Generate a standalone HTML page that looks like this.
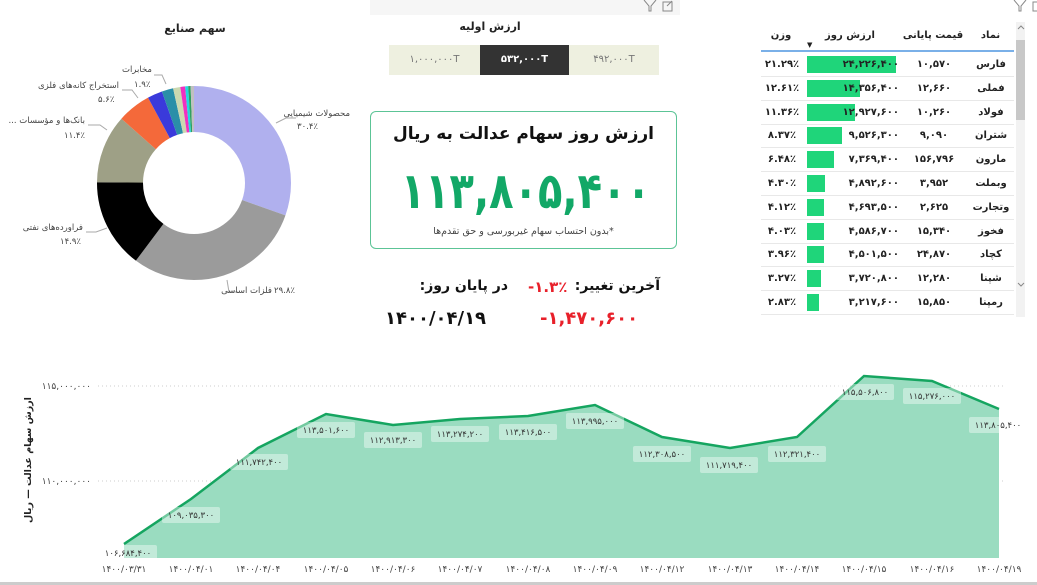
<!DOCTYPE html>
<html><head><meta charset="utf-8">
<style>
body{margin:0;width:1037px;height:585px;background:#fff;overflow:hidden;position:relative;font-family:"DejaVu Sans","Liberation Sans",sans-serif;}
.a{position:absolute;white-space:nowrap;}
.rtl{direction:rtl;}
table{border-collapse:collapse;}
</style></head><body>

<div class="a" style="left:370px;top:0;width:310px;height:15px;background:#f6f6f6"></div>
<svg class="a" style="left:640px;top:0" width="400" height="14">
 <path d="M4 0 L9 6 L9 11 L11 11 L11 6 L16 0" fill="none" stroke="#888" stroke-width="1"/>
 <rect x="23" y="2" width="9" height="9" fill="none" stroke="#888"/>
 <path d="M27 6 L32 1" stroke="#888"/>
 <path d="M374 0 L379 6 L379 11 L381 11 L381 6 L386 0" fill="none" stroke="#888" stroke-width="1"/>
 <rect x="393" y="2" width="9" height="9" fill="none" stroke="#888"/>
</svg>

<!-- Donut -->
<div class="a rtl" style="left:150px;top:22px;width:90px;text-align:center;font-size:11px;font-weight:bold;color:#222">سهم صنایع</div>
<svg class="a" style="left:0;top:0" width="360" height="310">
 <g transform="rotate(-90 194 183)" fill="none" stroke-width="46">
  <circle cx="194" cy="183" r="74" stroke="#b0b0ee" stroke-dasharray="141.35 465" stroke-dashoffset="0"/>
  <circle cx="194" cy="183" r="74" stroke="#9b9b9b" stroke-dasharray="138.56 465" stroke-dashoffset="-141.35"/>
  <circle cx="194" cy="183" r="74" stroke="#000" stroke-dasharray="69.28 465" stroke-dashoffset="-279.91"/>
  <circle cx="194" cy="183" r="74" stroke="#9ea086" stroke-dasharray="53 465" stroke-dashoffset="-349.19"/>
  <circle cx="194" cy="183" r="74" stroke="#f4693a" stroke-dasharray="26.04 465" stroke-dashoffset="-402.19"/>
  <circle cx="194" cy="183" r="74" stroke="#3a3adb" stroke-dasharray="11.62 465" stroke-dashoffset="-428.23"/>
  <circle cx="194" cy="183" r="74" stroke="#2a8fa8" stroke-dasharray="8.83 465" stroke-dashoffset="-439.85"/>
  <circle cx="194" cy="183" r="74" stroke="#cbd8b0" stroke-dasharray="5.58 465" stroke-dashoffset="-448.68"/>
  <circle cx="194" cy="183" r="74" stroke="#f030c0" stroke-dasharray="3.72 465" stroke-dashoffset="-454.26"/>
  <circle cx="194" cy="183" r="74" stroke="#20d8e0" stroke-dasharray="2.32 465" stroke-dashoffset="-457.98"/>
  <circle cx="194" cy="183" r="74" stroke="#30a060" stroke-dasharray="1.86 465" stroke-dashoffset="-460.30"/>
  <circle cx="194" cy="183" r="74" stroke="#c0c0c0" stroke-dasharray="2.79 465" stroke-dashoffset="-462.16"/>
 </g>
 <g stroke="#aaa" fill="none" stroke-width="1">
  <path d="M276 123 L286 118 L296 118"/>
  <path d="M227 280 L229 292 L238 292"/>
  <path d="M107 228 L96 232 L86 232"/>
  <path d="M107 130 L100 125 L88 125"/>
  <path d="M138 98 L132 90 L122 90"/>
  <path d="M166 84 L162 75 L154 75"/>
 </g>
</svg>
<div style="font-size:8.5px;color:#444">
 <div class="a rtl" style="right:687px;top:109px">محصولات شیمیایی</div>
 <div class="a" style="left:297px;top:122px">۳۰.۴٪</div>
 <div class="a rtl" style="right:765px;top:286px">فلزات اساسی</div>
 <div class="a" style="left:274px;top:286px">۲۹.۸٪</div>
 <div class="a rtl" style="right:954px;top:223px">فراورده‌های نفتی</div>
 <div class="a" style="left:60px;top:237px">۱۴.۹٪</div>
 <div class="a rtl" style="right:952px;top:116px">بانک‌ها و مؤسسات ...</div>
 <div class="a" style="left:64px;top:131px">۱۱.۴٪</div>
 <div class="a rtl" style="right:918px;top:81px">استخراج کانه‌های فلزی</div>
 <div class="a" style="left:98px;top:95px">۵.۶٪</div>
 <div class="a rtl" style="right:885px;top:65px">مخابرات</div>
 <div class="a" style="left:134px;top:80px">۱.۹٪</div>
</div>

<!-- initial value -->
<div class="a rtl" style="left:440px;top:20px;width:100px;text-align:center;font-size:11px;font-weight:bold;color:#222">ارزش اولیه</div>
<div class="a" style="left:389px;top:45px;width:91px;height:30px;background:#eef0e0;color:#777;font-size:10px;text-align:center;line-height:30px">۱,۰۰۰,۰۰۰T</div>
<div class="a" style="left:480px;top:45px;width:89px;height:30px;background:#333;color:#fff;font-weight:bold;font-size:10px;text-align:center;line-height:30px">۵۳۲,۰۰۰T</div>
<div class="a" style="left:569px;top:45px;width:90px;height:30px;background:#eef0e0;color:#777;font-size:10px;text-align:center;line-height:30px">۴۹۲,۰۰۰T</div>

<!-- card -->
<div class="a" style="left:370px;top:111px;width:305px;height:136px;border:1px solid #5cc496;border-radius:6px"></div>
<div class="a rtl" style="left:370px;top:124px;width:307px;text-align:center;font-size:17px;font-weight:bold;color:#111">ارزش روز سهام عدالت به ریال</div>
<div class="a" style="left:370px;top:162px;width:307px;text-align:center;font-size:50px;font-weight:bold;color:#12a867;letter-spacing:-2px;transform:scaleX(0.8);transform-origin:center">۱۱۳,۸۰۵,۴۰۰</div>
<div class="a rtl" style="left:370px;top:226px;width:307px;text-align:center;font-size:9.5px;color:#444">*بدون احتساب سهام غیربورسی و حق تقدم‌ها</div>

<div class="a rtl" style="left:560px;top:278px;width:100px;text-align:right;font-size:14px;font-weight:bold;color:#111">آخرین تغییر:</div>
<div class="a" style="left:528px;top:278px;font-size:15px;font-weight:bold;color:#e8202a">-۱.۳٪</div>
<div class="a rtl" style="left:420px;top:278px;width:88px;text-align:right;font-size:14px;font-weight:bold;color:#111">در پایان روز:</div>
<div class="a" style="left:385px;top:308px;font-size:18px;font-weight:bold;color:#111">۱۴۰۰/۰۴/۱۹</div>
<div class="a" style="left:540px;top:308px;font-size:18px;font-weight:bold;color:#e8202a">-۱,۴۷۰,۶۰۰</div>

<!-- table -->
<div class="a" style="left:1016px;top:22px;width:9px;height:295px;background:#f2f2f2"></div>
<div class="a" style="left:1016px;top:40px;width:9px;height:80px;background:#c8c8c8"></div>
<svg class="a" style="left:1014px;top:24px" width="14" height="300"><path d="M4 5 L7 2 L10 5" stroke="#888" fill="none"/><path d="M4 259 L7 262 L10 259" stroke="#888" fill="none"/></svg>
<div class="a" style="left:761px;top:20px;width:253px;height:297px;overflow:hidden">
<table class="rtl" style="font-size:10px;color:#222;font-weight:bold;width:253px">
<tr style="height:31px;border-bottom:2px solid #7ab0e8">
<td style="width:45px;text-align:center">نماد</td><td style="width:66px;text-align:center">قیمت پایانی</td><td style="width:96px;text-align:center;position:relative">ارزش روز<span style="position:absolute;left:6px;bottom:1px;font-size:7px">▼</span></td><td style="text-align:center">وزن</td></tr>
</table>
<div id="rows"></div>
</div>
<script>
var R=[["فارس","۱۰,۵۷۰","۲۴,۲۲۶,۴۰۰","۲۱.۲۹٪",24.2],["فملی","۱۲,۶۶۰","۱۴,۳۵۶,۴۰۰","۱۲.۶۱٪",14.36],["فولاد","۱۰,۲۶۰","۱۲,۹۲۷,۶۰۰","۱۱.۳۶٪",12.93],["شتران","۹,۰۹۰","۹,۵۲۶,۳۰۰","۸.۳۷٪",9.53],["مارون","۱۵۶,۷۹۶","۷,۳۶۹,۴۰۰","۶.۴۸٪",7.37],["وبملت","۳,۹۵۲","۴,۸۹۲,۶۰۰","۴.۳۰٪",4.89],["وتجارت","۲,۶۲۵","۴,۶۹۳,۵۰۰","۴.۱۲٪",4.69],["فخوز","۱۵,۳۴۰","۴,۵۸۶,۷۰۰","۴.۰۳٪",4.59],["کچاد","۲۴,۸۷۰","۴,۵۰۱,۵۰۰","۳.۹۶٪",4.5],["شپنا","۱۲,۲۸۰","۳,۷۲۰,۸۰۰","۳.۲۷٪",3.72],["رمپنا","۱۵,۸۵۰","۳,۲۱۷,۶۰۰","۲.۸۳٪",3.22],["","","","",3]];
var h="";R.forEach(function(r,i){var t=33+i*23.8,w=r[4]/24.2*89;
h+='<div class="a" style="top:'+t+'px;left:0;width:253px;height:23px;border-bottom:1px solid #e8e8e8;font-size:10px;font-weight:bold;color:#222;line-height:23px">'
+'<div class="a" style="left:46px;top:3px;width:'+w+'px;height:17px;background:#1fd57a"></div>'
+'<div class="a rtl" style="right:0;width:46px;text-align:center">'+r[0]+'</div>'
+'<div class="a" style="right:48px;width:64px;text-align:center">'+r[1]+'</div>'
+'<div class="a" style="left:46px;width:92px;text-align:right;position:absolute">'+r[2]+'</div>'
+'<div class="a" style="left:0;width:42px;text-align:center">'+r[3]+'</div></div>';});
document.getElementById("rows").innerHTML=h;
</script>

<!-- area chart -->
<svg class="a" style="left:0;top:340px" width="1037" height="245" font-family="DejaVu Sans,sans-serif">
 <g transform="translate(0,-340)">
 <line x1="98" y1="386" x2="1005" y2="386" stroke="#ccc" stroke-dasharray="1 3"/>
 <line x1="98" y1="481" x2="1005" y2="481" stroke="#ccc" stroke-dasharray="1 3"/>
 <text x="91" y="389" font-size="9" fill="#444" text-anchor="end">۱۱۵,۰۰۰,۰۰۰</text>
 <text x="91" y="484" font-size="9" fill="#444" text-anchor="end">۱۱۰,۰۰۰,۰۰۰</text>
 <text transform="translate(31,460) rotate(-90)" font-size="9.5" font-weight="bold" fill="#222" text-anchor="middle" direction="rtl">ارزش سهام عدالت — ریال</text>
 <path d="M124 544 L191 499 L258 448 L326 414 L393 425 L460 419 L528 416 L595 405 L662 437 L730 448 L797 437 L864 376 L932 381 L999 409 L999 558 L124 558 Z" fill="#9adcc0"/>
 <path d="M124 544 L191 499 L258 448 L326 414 L393 425 L460 419 L528 416 L595 405 L662 437 L730 448 L797 437 L864 376 L932 381 L999 409" fill="none" stroke="#15a560" stroke-width="2.5"/>
 <g id="lbl"></g>
 <g font-size="9" fill="#444" text-anchor="middle">
  <text x="124" y="572">۱۴۰۰/۰۳/۳۱</text><text x="191" y="572">۱۴۰۰/۰۴/۰۱</text><text x="258" y="572">۱۴۰۰/۰۴/۰۴</text><text x="326" y="572">۱۴۰۰/۰۴/۰۵</text><text x="393" y="572">۱۴۰۰/۰۴/۰۶</text><text x="460" y="572">۱۴۰۰/۰۴/۰۷</text><text x="528" y="572">۱۴۰۰/۰۴/۰۸</text><text x="595" y="572">۱۴۰۰/۰۴/۰۹</text><text x="662" y="572">۱۴۰۰/۰۴/۱۲</text><text x="730" y="572">۱۴۰۰/۰۴/۱۳</text><text x="797" y="572">۱۴۰۰/۰۴/۱۴</text><text x="864" y="572">۱۴۰۰/۰۴/۱۵</text><text x="932" y="572">۱۴۰۰/۰۴/۱۶</text><text x="999" y="572">۱۴۰۰/۰۴/۱۹</text>
 </g>
 </g>
</svg>
<div class="a" style="left:0;top:582px;width:1037px;height:3px;background:#ccc"></div>
<script>
var L=[[128,553,"۱۰۶,۶۸۴,۴۰۰"],[191,515,"۱۰۹,۰۳۵,۳۰۰"],[259,462,"۱۱۱,۷۴۲,۴۰۰"],[326,430,"۱۱۳,۵۰۱,۶۰۰"],[393,440,"۱۱۲,۹۱۳,۳۰۰"],[460,434,"۱۱۳,۲۷۴,۲۰۰"],[528,432,"۱۱۳,۴۱۶,۵۰۰"],[595,421,"۱۱۳,۹۹۵,۰۰۰"],[662,454,"۱۱۲,۳۰۸,۵۰۰"],[729,465,"۱۱۱,۷۱۹,۴۰۰"],[797,454,"۱۱۲,۳۲۱,۴۰۰"],[865,392,"۱۱۵,۵۰۶,۸۰۰"],[932,396,"۱۱۵,۲۷۶,۰۰۰"],[998,425,"۱۱۳,۸۰۵,۴۰۰"]];
var s="";L.forEach(function(p){s+='<rect x="'+(p[0]-29)+'" y="'+(p[1]-8)+'" width="58" height="16" rx="2" fill="#fff" fill-opacity="0.4"/><text x="'+p[0]+'" y="'+(p[1]+3)+'" font-size="8.5" fill="#333" text-anchor="middle">'+p[2]+'</text>';});
document.getElementById("lbl").innerHTML=s;
</script>
</body></html>
